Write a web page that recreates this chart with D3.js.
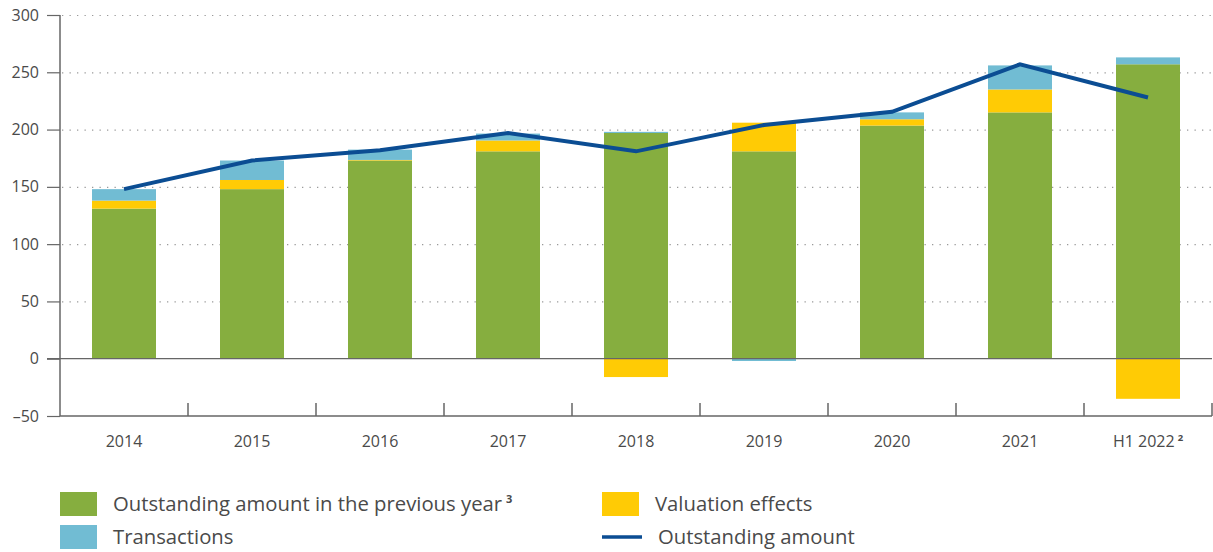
<!DOCTYPE html>
<html>
<head>
<meta charset="utf-8">
<script src="https://cdn.jsdelivr.net/npm/d3@7"></script>
<style>
  body { margin: 0; background: #fff; }
  svg { display: block; font-family: "Open Sans", "Noto Sans", sans-serif; }
  .tick-label { font-size: 16px; fill: #4a4a4a; }
  .legend-label { font-size: 20.3px; fill: #4a4a4a; }
</style>
</head>
<body>
<div class="chart"></div>
<script>
// categories and series (EUR bn)
const years = ["2014", "2015", "2016", "2017", "2018", "2019", "2020", "2021", "H1 2022"];
const previousYear = [131, 148, 173, 181, 197, 181, 203.5, 215, 257];
const valuation = [7, 8, 0.5, 9.5, -16, 25, 5.5, 20, -35];
const transactions = [10, 17, 9, 6, 1, -2, 6, 21, 6];
const outstanding = [148, 173, 182, 197, 181, 204, 215.5, 257, 228];
const yTicks = [-50, 0, 50, 100, 150, 200, 250, 300];

const width = 1213, height = 552;
const colors = { prev: "#86ae3f", val: "#ffcb05", trans: "#71bcd3", line: "#0b4d93" };

const svg = d3.select(".chart").append("svg")
  .attr("width", width)
  .attr("height", height);

const x = d3.scaleBand()
  .domain(years)
  .range([60, 1212])
  .paddingInner(0.5)
  .paddingOuter(0.25);

const y = d3.scaleLinear()
  .domain([-50, 300])
  .range([416, 15]);

// gridlines (dotted)
svg.append("g")
  .selectAll("line")
  .data(yTicks.filter(d => d > 0))
  .join("line")
  .attr("x1", 62)
  .attr("x2", 1212)
  .attr("y1", d => y(d) + 0.5)
  .attr("y2", d => y(d) + 0.5)
  .attr("stroke", "#9a9a9a")
  .attr("stroke-width", 1.2)
  .attr("stroke-dasharray", "1.3,6.2");

// stacked bars
const rows = years.map((yr, i) => ({
  year: yr, prev: previousYear[i], val: valuation[i], trans: transactions[i]
}));
const stack = d3.stack()
  .keys(["prev", "val", "trans"])
  .offset(d3.stackOffsetDiverging);
const series = stack(rows);

svg.append("g")
  .selectAll("g")
  .data(series)
  .join("g")
  .attr("fill", d => colors[d.key])
  .selectAll("rect")
  .data(d => d)
  .join("rect")
  .attr("x", d => x(d.data.year))
  .attr("width", x.bandwidth())
  .attr("y", d => y(Math.max(d[0], d[1])))
  .attr("height", d => Math.abs(y(d[0]) - y(d[1])));

// zero line
svg.append("line")
  .attr("x1", 47).attr("x2", 1212)
  .attr("y1", y(0)).attr("y2", y(0))
  .attr("stroke", "#666").attr("stroke-width", 1.2);

// y axis
const yAxis = d3.axisLeft(y).tickValues(yTicks).tickSize(13).tickPadding(8)
  .tickFormat(d => d < 0 ? "\u2013" + Math.abs(d) : d);
const gy = svg.append("g")
  .attr("transform", "translate(60,0)")
  .call(yAxis)
  .attr("font-size", null)
  .attr("font-family", null);
gy.select(".domain").remove();
gy.append("line")
  .attr("x1", 0).attr("x2", 0)
  .attr("y1", y(300)).attr("y2", y(-50))
  .attr("stroke", "#666").attr("stroke-width", 1.5);
gy.selectAll(".tick line").attr("stroke", "#666").attr("stroke-width", 1.2);
gy.selectAll(".tick text").attr("class", "tick-label");

// x axis (bottom line with boundary ticks pointing up)
const gx = svg.append("g");
gx.append("line")
  .attr("x1", 60).attr("x2", 1212)
  .attr("y1", y(-50)).attr("y2", y(-50))
  .attr("stroke", "#666").attr("stroke-width", 1.5);
gx.selectAll("line.sep")
  .data(years)
  .join("line")
  .attr("class", "sep")
  .attr("x1", d => x(d) + x.step() * 0.75)
  .attr("x2", d => x(d) + x.step() * 0.75)
  .attr("y1", y(-50))
  .attr("y2", y(-50) - 13)
  .attr("stroke", "#666").attr("stroke-width", 1.5);
const xl = gx.selectAll("text")
  .data(years)
  .join("text")
  .attr("class", "tick-label")
  .attr("x", d => x(d) + x.bandwidth() / 2)
  .attr("y", 447)
  .attr("text-anchor", "middle")
  .text(d => d);
xl.filter(d => d === "H1 2022")
  .append("tspan")
  .attr("dx", 3)
  .attr("dy", -6)
  .attr("font-size", 9.5)
  .attr("font-weight", "bold")
  .text("2");

// outstanding amount line
const line = d3.line()
  .x((d, i) => x(years[i]) + x.bandwidth() / 2)
  .y(d => y(d));
svg.append("path")
  .datum(outstanding)
  .attr("d", line)
  .attr("fill", "none")
  .attr("stroke", colors.line)
  .attr("stroke-width", 4);

// legend
const legend = svg.append("g");
const boxes = [
  { label: "Outstanding amount in the previous year", sup: "3", color: colors.prev, x: 60, y: 492 },
  { label: "Transactions", color: colors.trans, x: 60, y: 525 },
  { label: "Valuation effects", color: colors.val, x: 602, y: 492 }
];
boxes.forEach(b => {
  legend.append("rect")
    .attr("x", b.x).attr("y", b.y)
    .attr("width", 37).attr("height", 24)
    .attr("fill", b.color);
  const t = legend.append("text")
    .attr("class", "legend-label")
    .attr("x", b.x + 53)
    .attr("y", b.y + 19)
    .text(b.label);
  if (b.sup) {
    t.append("tspan")
      .attr("dx", 4).attr("dy", -8)
      .attr("font-size", 11).attr("font-weight", "bold")
      .text(b.sup);
  }
});
legend.append("line")
  .attr("x1", 602).attr("x2", 642)
  .attr("y1", 537).attr("y2", 537)
  .attr("stroke", colors.line).attr("stroke-width", 3.5);
legend.append("text")
  .attr("class", "legend-label")
  .attr("x", 658)
  .attr("y", 544)
  .text("Outstanding amount");
</script>
</body>
</html>
